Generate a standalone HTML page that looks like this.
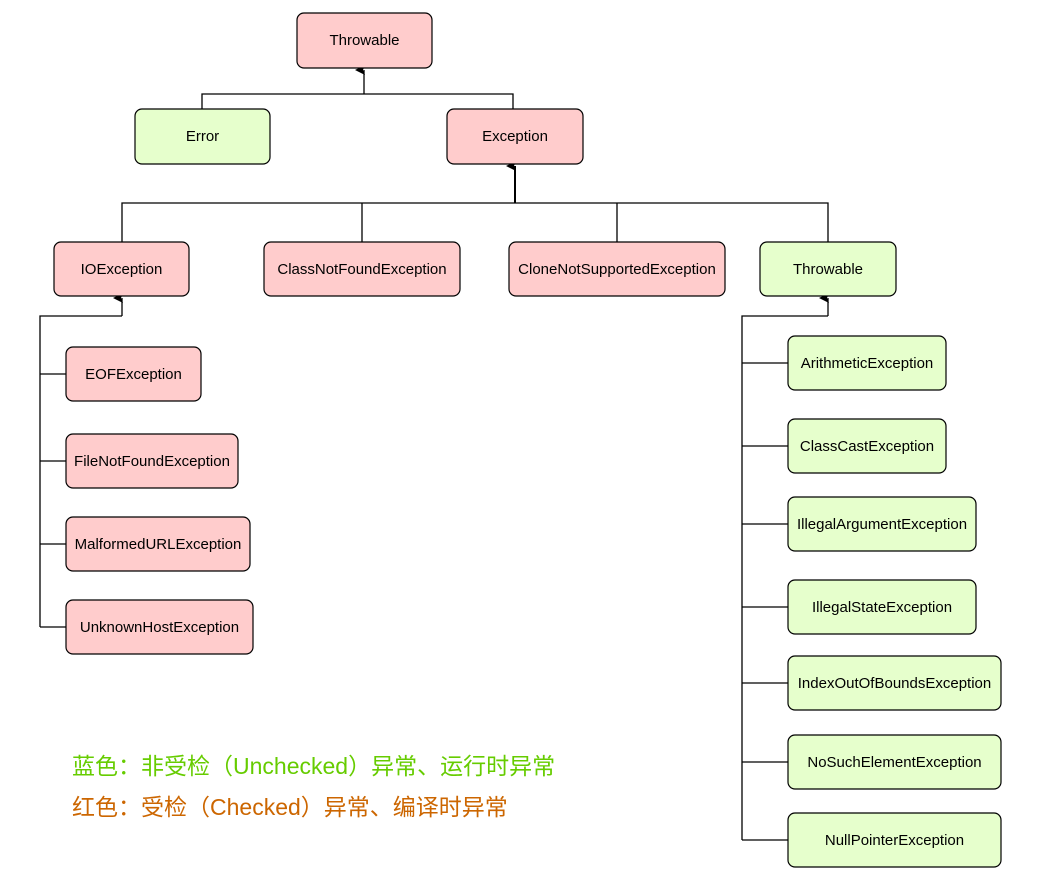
<!DOCTYPE html>
<html><head><meta charset="utf-8"><style>
html,body{margin:0;padding:0;background:#fff;}
svg{display:block;}
text{font-family:"Liberation Sans","Noto Sans CJK SC",sans-serif;}
</style></head><body>
<svg width="1058" height="892" viewBox="0 0 1058 892" xmlns="http://www.w3.org/2000/svg">
<defs><marker id="a" markerWidth="10" markerHeight="10" refX="5" refY="9" orient="auto" markerUnits="userSpaceOnUse"><path d="M0,10 L5,0 L10,10 L5,8 Z" fill="#000"/></marker>
<marker id="b" markerWidth="10" markerHeight="10" refX="5" refY="9" orient="auto-start-reverse" markerUnits="userSpaceOnUse"><path d="M0,10 L5,0 L10,10 L5,8 Z" fill="#000"/></marker></defs>
<g fill="none" stroke="#000" stroke-width="1.3">
<path d="M364,94 V70" marker-end="url(#b)"/>
<path d="M202,109 V94 H513 V109"/>
<path d="M515,203 V166" stroke-width="2" marker-end="url(#b)"/>
<path d="M122,242 V203 H828 V242"/>
<path d="M362,203 V242 M617,203 V242"/>
<path d="M122,316 V298" marker-end="url(#b)"/>
<path d="M40,627 V316 H122"/>
<path d="M40,374 H66 M40,461 H66 M40,544 H66 M40,627 H66"/>
<path d="M828,316 V298" marker-end="url(#b)"/>
<path d="M742,840 V316 H828"/>
<path d="M742,363 H788 M742,446 H788 M742,524 H788 M742,607 H788 M742,683 H788 M742,762 H788 M742,840 H788"/>
</g>
<g stroke="#000" stroke-width="1.2" font-size="15" text-anchor="middle">
<g fill="#ffcccc">
<rect x="297" y="13" width="135" height="55" rx="7"/>
<rect x="447" y="109" width="136" height="55" rx="7"/>
<rect x="54" y="242" width="135" height="54" rx="7"/>
<rect x="264" y="242" width="196" height="54" rx="7"/>
<rect x="509" y="242" width="216" height="54" rx="7"/>
<rect x="66" y="347" width="135" height="54" rx="7"/>
<rect x="66" y="434" width="172" height="54" rx="7"/>
<rect x="66" y="517" width="184" height="54" rx="7"/>
<rect x="66" y="600" width="187" height="54" rx="7"/>
</g>
<g fill="#e6ffcc">
<rect x="135" y="109" width="135" height="55" rx="7"/>
<rect x="760" y="242" width="136" height="54" rx="7"/>
<rect x="788" y="336" width="158" height="54" rx="7"/>
<rect x="788" y="419" width="158" height="54" rx="7"/>
<rect x="788" y="497" width="188" height="54" rx="7"/>
<rect x="788" y="580" width="188" height="54" rx="7"/>
<rect x="788" y="656" width="213" height="54" rx="7"/>
<rect x="788" y="735" width="213" height="54" rx="7"/>
<rect x="788" y="813" width="213" height="54" rx="7"/>
</g>
</g>
<g font-size="15" text-anchor="middle" fill="#000">
<text x="364.5" y="45">Throwable</text>
<text x="202.5" y="141">Error</text>
<text x="515" y="141">Exception</text>
<text x="121.5" y="274">IOException</text>
<text x="362" y="274">ClassNotFoundException</text>
<text x="617" y="274">CloneNotSupportedException</text>
<text x="828" y="274">Throwable</text>
<text x="133.5" y="379">EOFException</text>
<text x="152" y="466">FileNotFoundException</text>
<text x="158" y="549">MalformedURLException</text>
<text x="159.5" y="632">UnknownHostException</text>
<text x="867" y="368">ArithmeticException</text>
<text x="867" y="451">ClassCastException</text>
<text x="882" y="529">IllegalArgumentException</text>
<text x="882" y="612">IllegalStateException</text>
<text x="894.5" y="688">IndexOutOfBoundsException</text>
<text x="894.5" y="767">NoSuchElementException</text>
<text x="894.5" y="845">NullPointerException</text>
</g>
<text x="72" y="774" font-size="23" fill="#66cc00">蓝色：非受检（Unchecked）异常、运行时异常</text>
<text x="72" y="815" font-size="23" fill="#cc6600">红色：受检（Checked）异常、编译时异常</text>
</svg>
</body></html>
